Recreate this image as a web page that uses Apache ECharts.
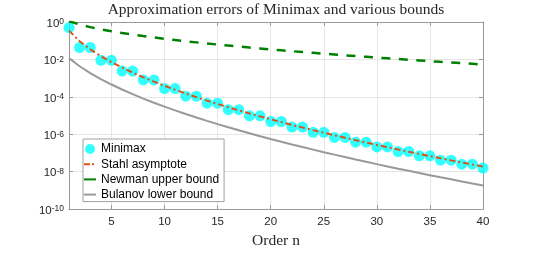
<!DOCTYPE html>
<html>
<head>
<meta charset="utf-8">
<script src="https://cdn.jsdelivr.net/npm/echarts@6/dist/echarts.min.js"></script>
<style>html,body{margin:0;padding:0;background:#fff}#c{width:534px;height:254px}</style>
</head>
<body>
<div id="c"></div>
<script>
// Order n
const orders = [1,2,3,4,5,6,7,8,9,10,11,12,13,14,15,16,17,18,19,20,21,22,23,24,25,26,27,28,29,30,31,32,33,34,35,36,37,38,39,40];
// Minimax errors
const minimax = [0.5,0.0433,0.0433,0.0089,0.0089,0.0024,0.0024,8.0e-4,8.0e-4,2.75e-4,2.75e-4,1.08e-4,1.08e-4,4.6e-5,4.6e-5,2.07e-5,2.07e-5,9.7e-6,9.7e-6,4.8e-6,4.8e-6,2.43e-6,2.43e-6,1.27e-6,1.27e-6,6.8e-7,6.8e-7,3.75e-7,3.75e-7,2.1e-7,2.1e-7,1.2e-7,1.2e-7,7.0e-8,7.0e-8,4.1e-8,4.1e-8,2.5e-8,2.5e-8,1.55e-8];
// Stahl asymptote
const stahl = [0.3457,0.0941,0.03467,0.01494,7.12e-3,3.64e-3,1.965e-3,1.107e-3,6.46e-4,3.88e-4,2.39e-4,1.50e-4,9.63e-5,6.28e-5,4.16e-5,2.79e-5,1.90e-5,1.30e-5,9.03e-6,6.33e-6,4.47e-6,3.19e-6,2.29e-6,1.66e-6,1.21e-6,8.83e-7,6.51e-7,4.83e-7,3.59e-7,2.69e-7,2.03e-7,1.53e-7,1.16e-7,8.86e-8,6.78e-8,5.21e-8,4.02e-8,3.11e-8,2.41e-8,1.88e-8];
// Newman upper bound
const newman = [1.104,0.7294,0.5306,0.4060,0.3207,0.2590,0.2129,0.1773,0.1494,0.1270,0.1088,0.0939,0.0815,0.0712,0.0624,0.0550,0.0486,0.0431,0.0384,0.0343,0.0307,0.0275,0.0248,0.0224,0.0202,0.0183,0.0166,0.0151,0.0138,0.01254,0.01146,0.01048,9.60e-3,8.81e-3,8.09e-3,7.43e-3,6.85e-3,6.31e-3,5.82e-3,5.37e-3];
// Bulanov lower bound
const bulanov = [0.01176,4.33e-3,1.868e-3,8.90e-4,4.55e-4,2.46e-4,1.384e-4,8.07e-5,4.85e-5,2.99e-5,1.88e-5,1.20e-5,7.85e-6,5.20e-6,3.49e-6,2.37e-6,1.63e-6,1.13e-6,7.91e-7,5.59e-7,3.99e-7,2.86e-7,2.07e-7,1.51e-7,1.10e-7,8.14e-8,6.03e-8,4.49e-8,3.37e-8,2.53e-8,1.91e-8,1.45e-8,1.11e-8,8.48e-9,6.51e-9,5.02e-9,3.89e-9,3.02e-9,2.35e-9,1.84e-9];
// Tick labels
const xTicks = [5,10,15,20,25,30,35,40];
const yTickExps = [-10,-8,-6,-4,-2,0];
const seriesNames = ['Minimax','Stahl asymptote','Newman upper bound','Bulanov lower bound'];
const titleText = 'Approximation errors of Minimax and various bounds';
const xName = 'Order n';

const chart = echarts.init(document.getElementById('c'), null, {renderer: 'canvas'});
const axisCol = '#9a9a9a';
const gridCol = '#e6e6e6';
const labCol = '#262626';
const serif = '"Liberation Serif", serif';
const sans = '"Liberation Sans", Arial, sans-serif';
const isTick = (i, v) => xTicks.indexOf(Number(v)) >= 0;

// legend icons (thin line / dash-dot in a 12x12 box)
const iconLine = 'path://M0,0M0,5L12,5L12,7L0,7ZM12,12';
const iconDashDot = 'path://M0,0M0,5L6,5L6,7L0,7ZM8,5L10,5L10,7L8,7ZM12,12';
const iconCircle = 'path://M0,0M1,6A5,5,0,1,0,11,6A5,5,0,1,0,1,6ZM12,12';

const baseX = {
  type: 'category', data: orders.map(String), boundaryGap: false,
  axisLine: {show: true, lineStyle: {color: axisCol, width: 1}},
  axisTick: {show: true, inside: true, length: 4, interval: isTick, lineStyle: {color: axisCol}},
};
const baseY = {
  type: 'log', logBase: 10, min: 1e-10, max: 1, interval: 2,
  axisLine: {show: true, lineStyle: {color: axisCol, width: 1}},
  axisTick: {show: true, inside: true, length: 4, lineStyle: {color: axisCol}},
  minorTick: {show: false},
};

chart.setOption({
  animation: false,
  backgroundColor: '#fff',
  grid: {left: 69, right: 51, top: 22, bottom: 39, containLabel: false},
  graphic: [{
    type: 'text', x: 276, y: 10,
    style: {text: titleText, font: '15.5px ' + serif, fill: '#262626', textAlign: 'center', textVerticalAlign: 'middle'}
  }],
  xAxis: [
    Object.assign({}, baseX, {
      position: 'bottom',
      name: xName, nameLocation: 'middle', nameGap: 22,
      nameTextStyle: {fontFamily: serif, fontSize: 15.5, color: '#262626'},
      axisLabel: {show: true, interval: isTick, margin: 7, color: labCol, fontFamily: sans, fontSize: 11.5},
      splitLine: {show: true, interval: isTick, lineStyle: {color: gridCol, width: 1}}
    }),
    Object.assign({}, baseX, {
      position: 'top', axisLabel: {show: false}, splitLine: {show: false}
    })
  ],
  yAxis: [
    Object.assign({}, baseY, {
      position: 'left',
      axisLabel: {
        show: true, margin: 5, color: labCol,
        padding: [3, 0, 0, 0],
        formatter: function (v) {
          const e = Math.round(Math.log10(v));
          if (yTickExps.indexOf(e) < 0) return '';
          return '{b|10}{s|' + e + '}';
        },
        rich: {
          b: {fontFamily: sans, fontSize: 11.5, color: labCol, lineHeight: 12, padding: [3, 0, 0, 0], verticalAlign: 'bottom'},
          s: {fontFamily: sans, fontSize: 8.5, color: labCol, lineHeight: 9, verticalAlign: 'top'}
        }
      },
      splitLine: {show: true, lineStyle: {color: gridCol, width: 1}}
    }),
    Object.assign({}, baseY, {
      position: 'right', axisLabel: {show: false}, splitLine: {show: false}
    })
  ],
  legend: {
    orient: 'vertical', left: 83, top: 139,
    padding: [4, 5, 1, 1], itemGap: 3.2, itemWidth: 12, itemHeight: 12,
    backgroundColor: '#fff', borderColor: '#a0a0a0', borderWidth: 1, borderRadius: 0,
    textStyle: {fontFamily: sans, fontSize: 12, color: '#000'},
    data: [
      {name: seriesNames[0], icon: iconCircle},
      {name: seriesNames[1], icon: iconDashDot},
      {name: seriesNames[2], icon: iconLine},
      {name: seriesNames[3], icon: iconLine}
    ]
  },
  series: [
    {
      name: seriesNames[0], type: 'scatter', data: minimax,
      symbol: 'circle', symbolSize: 11,
      itemStyle: {color: '#00ffff'}, z: 2
    },
    {
      name: seriesNames[1], type: 'line', data: stahl, showSymbol: false, symbol: 'none',
      lineStyle: {color: '#D95319', width: 2, type: [6, 3, 2, 3]}, itemStyle: {color: '#D95319'}, z: 4
    },
    {
      name: seriesNames[2], type: 'line', data: newman, showSymbol: false, symbol: 'none',
      lineStyle: {color: '#008000', width: 2.5, type: [9, 8.5]}, itemStyle: {color: '#008000'}, z: 3
    },
    {
      name: seriesNames[3], type: 'line', data: bulanov, showSymbol: false, symbol: 'none',
      lineStyle: {color: '#999999', width: 2}, itemStyle: {color: '#999999'}, z: 3
    }
  ]
});
</script>
</body>
</html>
